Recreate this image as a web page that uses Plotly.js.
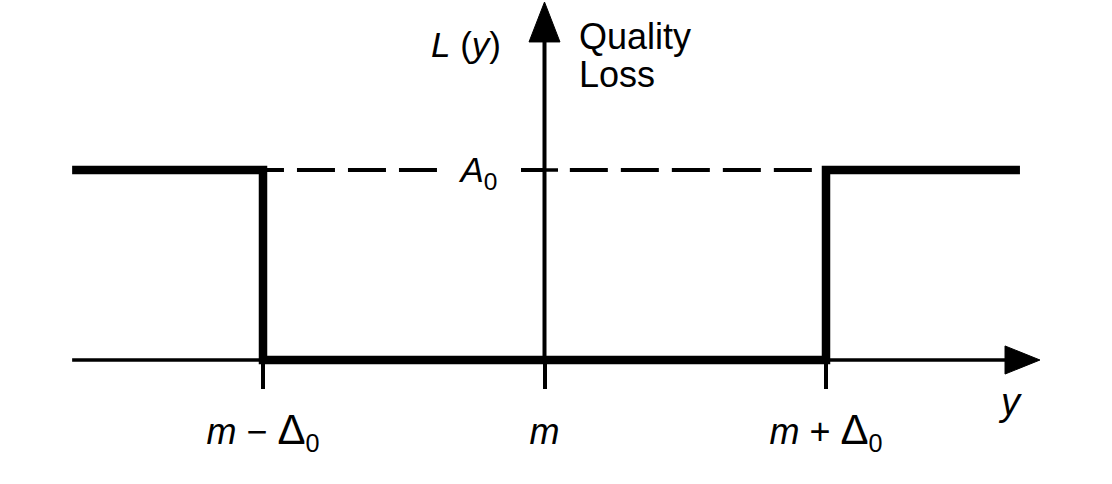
<!DOCTYPE html>
<html>
<head>
<meta charset="utf-8">
<script src="https://cdn.plot.ly/plotly-3.0.1.min.js"></script>
<style>html,body{margin:0;padding:0;background:#fff;}#chart{width:1112px;height:484px;}</style>
</head>
<body>
<div id="chart"></div>
<script>
// ---- data ----
const xTickVals = [-1, 0, 1];
const xTickText = [
  '<i>m</i> − <span style="font-size:42px">Δ</span><sub>0</sub>',
  '<i>m</i>',
  '<i>m</i> + <span style="font-size:42px">Δ</span><sub>0</sub>'
];
const yTickVals = [1];
const yTickText = ['<i>A</i><sub>0</sub>'];
// step quality-loss function L(y)
const lossX = [-1.678, -1, -1, 1, 1, 1.689];
const lossY = [1, 1, 0, 0, 1, 1];
// dashed reference level A0
const refLeftX = [-0.382, -1];
const refRightX = [0.09, 1];
const refY = [1, 1];

const FONT = 'Liberation Sans, Arial, Helvetica, sans-serif';
const xr = [(0 - 544.5) / 281.5, (1112 - 544.5) / 281.5];
const yr = [(360 - 484) / 190, 360 / 190];

const traces = [
  {x: refLeftX, y: refY, mode: 'lines', line: {color: '#000', width: 4, dash: '38px,13px'}, hoverinfo: 'skip'},
  {x: refRightX, y: refY, mode: 'lines', line: {color: '#000', width: 4, dash: '38px,13px'}, hoverinfo: 'skip'},
  {x: lossX, y: lossY, mode: 'lines', line: {color: '#000', width: 8.5}, hoverinfo: 'skip'}
];

const shapes = [
  // horizontal axis
  {type: 'line', xref: 'x', yref: 'y', x0: -1.678, x1: 1.65, y0: 0, y1: 0, line: {color: '#000', width: 3.5}},
  {type: 'path', xref: 'x', yref: 'y', path: 'M 1.636,-0.074 L 1.760,0 L 1.636,0.074 Z', fillcolor: '#000', line: {color: '#000', width: 1}},
  // vertical axis
  {type: 'line', xref: 'x', yref: 'y', x0: 0, x1: 0, y0: 0, y1: 1.70, line: {color: '#000', width: 4}},
  {type: 'path', xref: 'x', yref: 'y', path: 'M -0.055,1.674 L 0,1.884 L 0.055,1.674 Z', fillcolor: '#000', line: {color: '#000', width: 1}},
  // right part of A0 tick crossing the axis
  {type: 'line', xref: 'x', yref: 'y', x0: 0, x1: 0.048, y0: 1, y1: 1, line: {color: '#000', width: 3.5}}
];

const annotations = [
  {x: -0.279, y: 1.658, xref: 'x', yref: 'y', text: '<i>L</i> (<i>y</i>)', showarrow: false, font: {family: FONT, size: 35, color: '#000'}},
  {x: 0.115, y: 1.705, xref: 'x', yref: 'y', xanchor: 'left', text: 'Quality', showarrow: false, font: {family: FONT, size: 36, color: '#000'}},
  {x: 0.115, y: 1.505, xref: 'x', yref: 'y', xanchor: 'left', text: 'Loss', showarrow: false, font: {family: FONT, size: 36, color: '#000'}},
  {x: 1.654, y: -0.221, xref: 'x', yref: 'y', text: '<i>y</i>', showarrow: false, font: {family: FONT, size: 38, color: '#000'}}
];

const layout = {
  width: 1112, height: 484,
  margin: {l: 0, r: 0, t: 0, b: 0, pad: 0},
  paper_bgcolor: '#fff', plot_bgcolor: '#fff',
  showlegend: false,
  xaxis: {
    range: xr, showgrid: false, zeroline: false, showline: false,
    anchor: 'free', position: 124 / 484,
    tickmode: 'array', tickvals: xTickVals, ticktext: xTickText,
    ticks: 'outside', ticklen: 28, tickwidth: 4, tickcolor: '#000',
    ticklabelstandoff: 12,
    tickfont: {family: FONT, size: 36, color: '#000'}
  },
  yaxis: {
    range: yr, showgrid: false, zeroline: false, showline: false,
    anchor: 'free', position: 544.5 / 1112,
    tickmode: 'array', tickvals: yTickVals, ticktext: yTickText,
    ticks: 'outside', ticklen: 24, tickwidth: 3.5, tickcolor: '#000',
    ticklabelstandoff: 16,
    tickfont: {family: FONT, size: 35, color: '#000'}
  },
  shapes: shapes,
  annotations: annotations
};

Plotly.newPlot('chart', traces, layout, {displayModeBar: false, staticPlot: true});
</script>
</body>
</html>
